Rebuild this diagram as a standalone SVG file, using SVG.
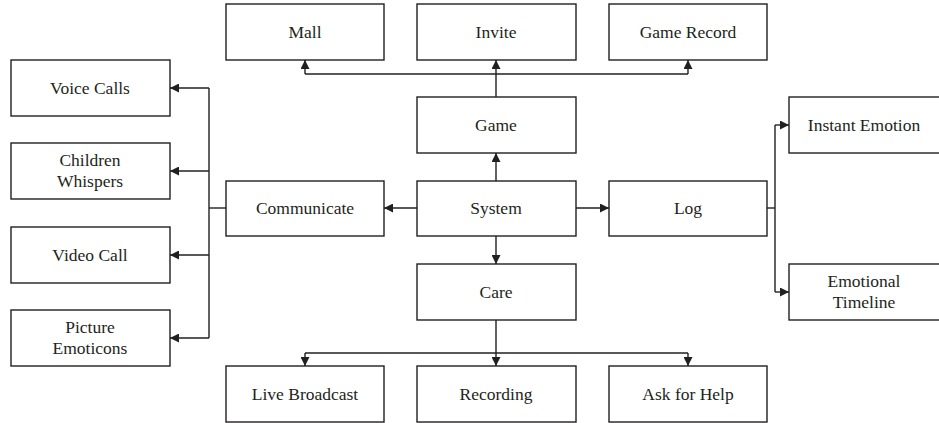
<svg xmlns="http://www.w3.org/2000/svg" width="939" height="423" viewBox="0 0 939 423">
<style>
.box{fill:#fff;stroke:#231f20;stroke-width:1.4}
.t{font-family:"Liberation Serif","Times New Roman",serif;font-size:17.5px;fill:#231f20;text-anchor:middle}
.c{fill:none;stroke:#231f20;stroke-width:1.4}
</style>
<defs>
<marker id="ah" viewBox="0 0 10 10" refX="10" refY="5" markerWidth="9" markerHeight="9" markerUnits="userSpaceOnUse" orient="auto">
<path d="M0,0 L10,5 L0,10 z" fill="#231f20"/>
</marker>
</defs>
<rect width="939" height="423" fill="#fff"/>
<g id="connectors">
<path class="c" d="M496,181 V153" marker-end="url(#ah)"/>
<path class="c" d="M496,97 V60" marker-end="url(#ah)"/>
<path class="c" d="M305,74 H688"/>
<path class="c" d="M305,74 V60" marker-end="url(#ah)"/>
<path class="c" d="M688,74 V60" marker-end="url(#ah)"/>
<path class="c" d="M417,208 H384" marker-end="url(#ah)"/>
<path class="c" d="M576,208 H609" marker-end="url(#ah)"/>
<path class="c" d="M226,208 H209"/>
<path class="c" d="M209,88 V338"/>
<path class="c" d="M209,88 H170" marker-end="url(#ah)"/>
<path class="c" d="M209,171 H170" marker-end="url(#ah)"/>
<path class="c" d="M209,255 H170" marker-end="url(#ah)"/>
<path class="c" d="M209,338 H170" marker-end="url(#ah)"/>
<path class="c" d="M767,208 H775"/>
<path class="c" d="M775,125 V292"/>
<path class="c" d="M775,125 H789" marker-end="url(#ah)"/>
<path class="c" d="M775,292 H789" marker-end="url(#ah)"/>
<path class="c" d="M496,236 V264" marker-end="url(#ah)"/>
<path class="c" d="M496,320 V353"/>
<path class="c" d="M305,353 H688"/>
<path class="c" d="M305,353 V366" marker-end="url(#ah)"/>
<path class="c" d="M496,353 V366" marker-end="url(#ah)"/>
<path class="c" d="M688,353 V366" marker-end="url(#ah)"/>
</g>
<g id="mall"><rect class="box" x="226" y="4" width="158" height="56"/><text class="t" x="305" y="38">Mall</text></g>
<g id="invite"><rect class="box" x="417" y="4" width="159" height="56"/><text class="t" x="496" y="38">Invite</text></g>
<g id="game-record"><rect class="box" x="609" y="4" width="158" height="56"/><text class="t" x="688" y="38">Game Record</text></g>
<g id="game"><rect class="box" x="417" y="97" width="159" height="56"/><text class="t" x="496" y="131">Game</text></g>
<g id="voice-calls"><rect class="box" x="11" y="60" width="159" height="56"/><text class="t" x="90" y="94">Voice Calls</text></g>
<g id="children-whispers"><rect class="box" x="11" y="143" width="159" height="56"/><text class="t" x="90" y="166">Children</text><text class="t" x="90" y="187">Whispers</text></g>
<g id="video-call"><rect class="box" x="11" y="227" width="159" height="56"/><text class="t" x="90" y="261">Video Call</text></g>
<g id="picture-emoticons"><rect class="box" x="11" y="310" width="159" height="56"/><text class="t" x="90" y="333">Picture</text><text class="t" x="90" y="354">Emoticons</text></g>
<g id="communicate"><rect class="box" x="226" y="181" width="158" height="55"/><text class="t" x="305" y="214">Communicate</text></g>
<g id="system"><rect class="box" x="417" y="181" width="159" height="55"/><text class="t" x="496" y="214">System</text></g>
<g id="log"><rect class="box" x="609" y="181" width="158" height="55"/><text class="t" x="688" y="214">Log</text></g>
<g id="instant-emotion"><rect class="box" x="789" y="97" width="160" height="56"/><text class="t" x="864" y="131">Instant Emotion</text></g>
<g id="emotional-timeline"><rect class="box" x="789" y="264" width="160" height="56"/><text class="t" x="864" y="287">Emotional</text><text class="t" x="864" y="308">Timeline</text></g>
<g id="care"><rect class="box" x="417" y="264" width="159" height="56"/><text class="t" x="496" y="298">Care</text></g>
<g id="live-broadcast"><rect class="box" x="226" y="366" width="158" height="56"/><text class="t" x="305" y="400">Live Broadcast</text></g>
<g id="recording"><rect class="box" x="417" y="366" width="159" height="56"/><text class="t" x="496" y="400">Recording</text></g>
<g id="ask-for-help"><rect class="box" x="609" y="366" width="158" height="56"/><text class="t" x="688" y="400">Ask for Help</text></g>
</svg>
